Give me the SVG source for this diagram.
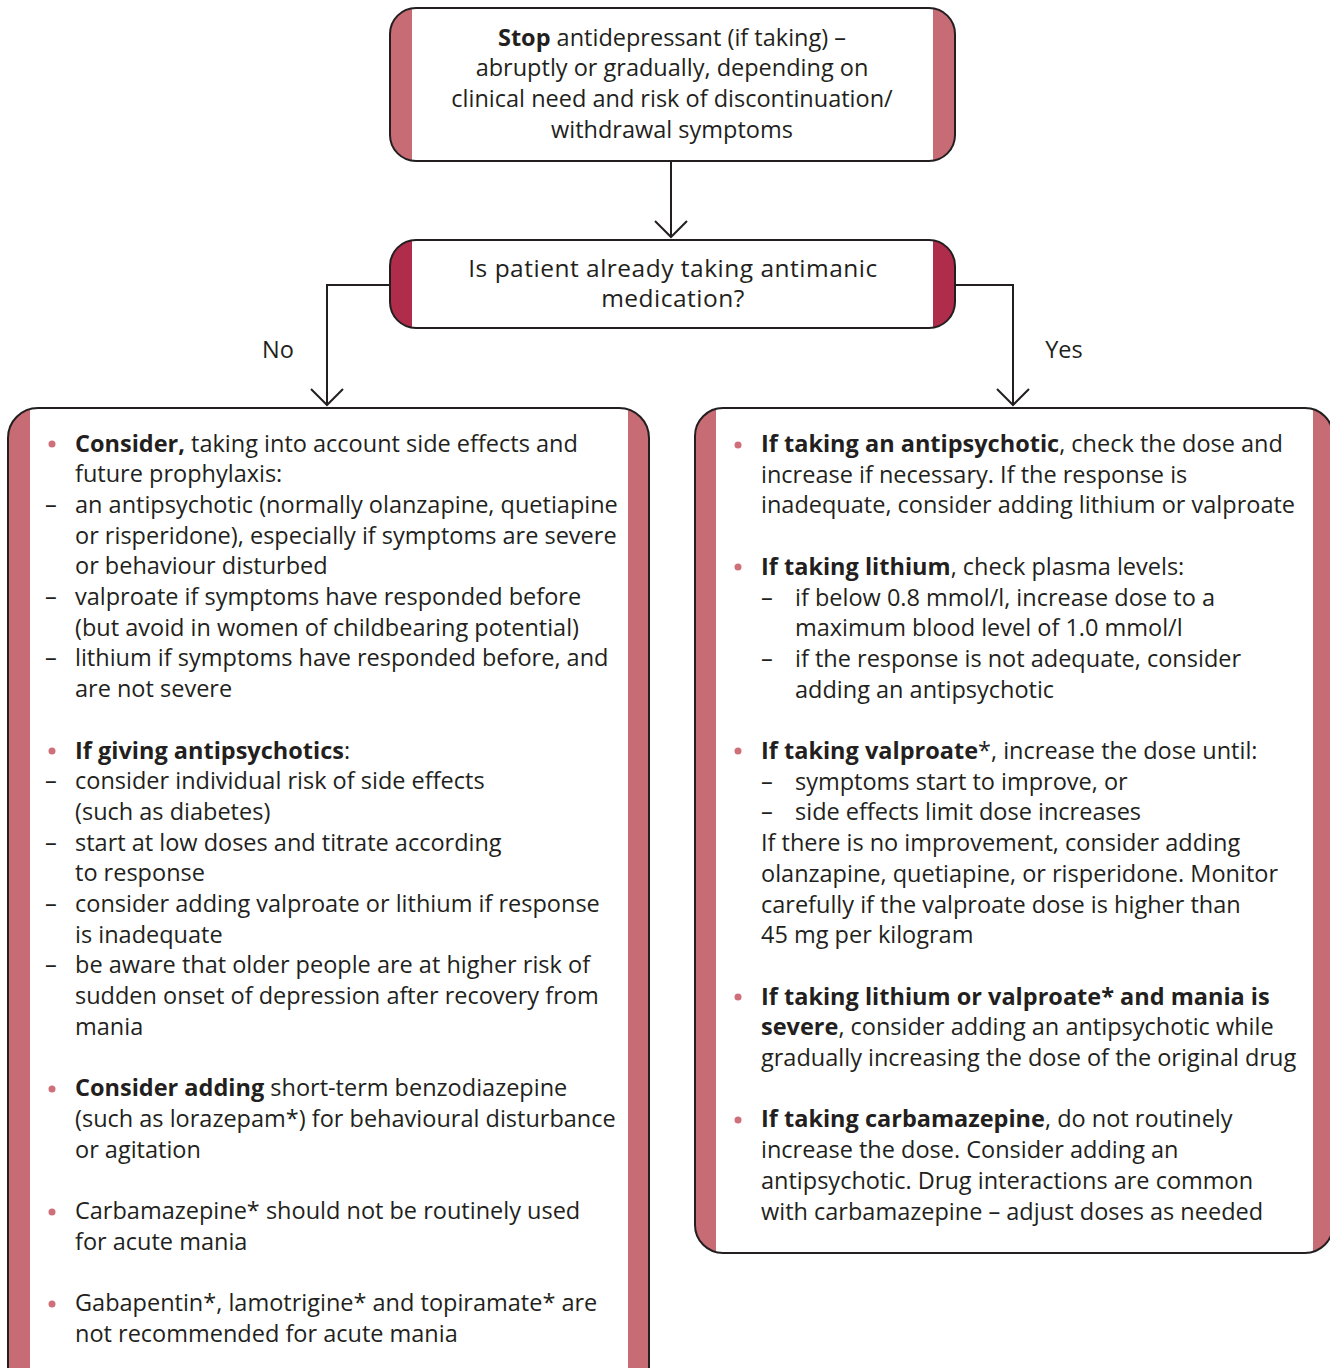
<svg xmlns="http://www.w3.org/2000/svg" width="1330" height="1368" viewBox="0 0 1330 1368">
<style>
text{font-family:"Open Sans","Noto Sans","Liberation Sans",sans-serif;font-size:23.5px;fill:#231f20}
.c{text-anchor:middle}
.q{font-size:24.5px;letter-spacing:0.5px}
.b{font-weight:bold}
.box{fill:none;stroke:#231f20;stroke-width:2}
.bg{fill:#ffffff}
.band{fill:#c76b74}
.band2{fill:#b02c4b}
.dot{fill:#cf6f79}
.conn{fill:none;stroke:#231f20;stroke-width:2}
</style>
<defs>
<marker id="v" markerUnits="userSpaceOnUse" markerWidth="40" markerHeight="40" viewBox="-20 -20 40 40" refX="0" refY="0" orient="auto">
<path d="M-16,-16 L0,0 L-16,16" fill="none" stroke="#231f20" stroke-width="2"/>
</marker>
<clipPath id="c1"><rect x="390" y="8" width="565" height="153" rx="26"/></clipPath>
<clipPath id="c2"><rect x="390" y="240" width="565" height="88" rx="26"/></clipPath>
<clipPath id="c3"><rect x="8" y="408" width="641" height="990" rx="30"/></clipPath>
<clipPath id="c4"><rect x="695" y="408" width="638" height="845" rx="28"/></clipPath>
</defs>
<rect width="1330" height="1368" fill="#ffffff"/>

<g id="connectors">
<path class="conn" d="M671,161 L671,237" marker-end="url(#v)"/>
<path class="conn" d="M390,285 L327,285 L327,405" marker-end="url(#v)"/>
<path class="conn" d="M955,285 L1013,285 L1013,405" marker-end="url(#v)"/>
<text x="278" y="358" class="c">No</text>
<text x="1064" y="358" class="c">Yes</text>
</g>

<g id="stop">
<rect class="bg" x="390" y="8" width="565" height="153" rx="26"/>
<g clip-path="url(#c1)"><rect class="band" x="390" y="8" width="22" height="153"/><rect class="band" x="933" y="8" width="22" height="153"/></g>
<rect class="box" x="390" y="8" width="565" height="153" rx="26"/>
<text x="672" y="45.5" class="c"><tspan class="b">Stop</tspan> antidepressant (if taking) –</text>
<text x="672" y="76" class="c">abruptly or gradually, depending on</text>
<text x="672" y="107" class="c">clinical need and risk of discontinuation/</text>
<text x="672" y="137.5" class="c">withdrawal symptoms</text>
</g>

<g id="question">
<rect class="bg" x="390" y="240" width="565" height="88" rx="26"/>
<g clip-path="url(#c2)"><rect class="band2" x="390" y="240" width="22" height="88"/><rect class="band2" x="933" y="240" width="22" height="88"/></g>
<rect class="box" x="390" y="240" width="565" height="88" rx="26"/>
<text x="673" y="276.5" class="c q">Is patient already taking antimanic</text>
<text x="673" y="307" class="c q">medication?</text>
</g>

<g id="no-branch">
<rect class="bg" x="8" y="408" width="641" height="990" rx="30"/>
<g clip-path="url(#c3)"><rect class="band" x="8" y="408" width="22" height="990"/><rect class="band" x="628" y="408" width="21" height="990"/></g>
<rect class="box" x="8" y="408" width="641" height="990" rx="30"/>
<circle class="dot" cx="52" cy="444" r="3.5"/>
<text x="75" y="451.5"><tspan class="b">Consider,</tspan> taking into account side effects and</text>
<text x="75" y="482.2">future prophylaxis:</text>
<text x="45" y="512.9">–</text><text x="75" y="512.9">an antipsychotic (normally olanzapine, quetiapine</text>
<text x="75" y="543.6">or risperidone), especially if symptoms are severe</text>
<text x="75" y="574.3">or behaviour disturbed</text>
<text x="45" y="605">–</text><text x="75" y="605">valproate if symptoms have responded before</text>
<text x="75" y="635.7">(but avoid in women of childbearing potential)</text>
<text x="45" y="666.4">–</text><text x="75" y="666.4">lithium if symptoms have responded before, and</text>
<text x="75" y="697.1">are not severe</text>
<circle class="dot" cx="52" cy="751" r="3.5"/>
<text x="75" y="758.5"><tspan class="b">If giving antipsychotics</tspan>:</text>
<text x="45" y="789.2">–</text><text x="75" y="789.2">consider individual risk of side effects</text>
<text x="75" y="819.9">(such as diabetes)</text>
<text x="45" y="850.6">–</text><text x="75" y="850.6">start at low doses and titrate according</text>
<text x="75" y="881.3">to response</text>
<text x="45" y="912">–</text><text x="75" y="912">consider adding valproate or lithium if response</text>
<text x="75" y="942.7">is inadequate</text>
<text x="45" y="973.4">–</text><text x="75" y="973.4">be aware that older people are at higher risk of</text>
<text x="75" y="1004.1">sudden onset of depression after recovery from</text>
<text x="75" y="1034.8">mania</text>
<circle class="dot" cx="52" cy="1089" r="3.5"/>
<text x="75" y="1096.2"><tspan class="b">Consider adding</tspan> short-term benzodiazepine</text>
<text x="75" y="1126.9">(such as lorazepam*) for behavioural disturbance</text>
<text x="75" y="1157.6">or agitation</text>
<circle class="dot" cx="52" cy="1212" r="3.5"/>
<text x="75" y="1219">Carbamazepine* should not be routinely used</text>
<text x="75" y="1249.7">for acute mania</text>
<circle class="dot" cx="52" cy="1304" r="3.5"/>
<text x="75" y="1311.1">Gabapentin*, lamotrigine* and topiramate* are</text>
<text x="75" y="1341.8">not recommended for acute mania</text>
</g>

<g id="yes-branch">
<rect class="bg" x="695" y="408" width="638" height="845" rx="28"/>
<g clip-path="url(#c4)"><rect class="band" x="695" y="408" width="21" height="845"/><rect class="band" x="1313" y="408" width="20" height="845"/></g>
<rect class="box" x="695" y="408" width="638" height="845" rx="28"/>
<circle class="dot" cx="738" cy="445" r="3.5"/>
<text x="761" y="452"><tspan class="b">If taking an antipsychotic</tspan>, check the dose and</text>
<text x="761" y="482.7">increase if necessary. If the response is</text>
<text x="761" y="513.4">inadequate, consider adding lithium or valproate</text>
<circle class="dot" cx="738" cy="567" r="3.5"/>
<text x="761" y="574.8"><tspan class="b">If taking lithium</tspan>, check plasma levels:</text>
<text x="761" y="605.5">–</text><text x="795" y="605.5">if below 0.8 mmol/l, increase dose to a</text>
<text x="795" y="636.2">maximum blood level of 1.0 mmol/l</text>
<text x="761" y="666.9">–</text><text x="795" y="666.9">if the response is not adequate, consider</text>
<text x="795" y="697.6">adding an antipsychotic</text>
<circle class="dot" cx="738" cy="751" r="3.5"/>
<text x="761" y="759"><tspan class="b">If taking valproate</tspan>*, increase the dose until:</text>
<text x="761" y="789.7">–</text><text x="795" y="789.7">symptoms start to improve, or</text>
<text x="761" y="820.4">–</text><text x="795" y="820.4">side effects limit dose increases</text>
<text x="761" y="851.1">If there is no improvement, consider adding</text>
<text x="761" y="881.8">olanzapine, quetiapine, or risperidone. Monitor</text>
<text x="761" y="912.5">carefully if the valproate dose is higher than</text>
<text x="761" y="943.2">45 mg per kilogram</text>
<circle class="dot" cx="738" cy="997" r="3.5"/>
<text x="761" y="1004.6"><tspan class="b">If taking lithium or valproate* and mania is</tspan></text>
<text x="761" y="1035.3"><tspan class="b">severe</tspan>, consider adding an antipsychotic while</text>
<text x="761" y="1066">gradually increasing the dose of the original drug</text>
<circle class="dot" cx="738" cy="1120" r="3.5"/>
<text x="761" y="1127.4"><tspan class="b">If taking carbamazepine</tspan>, do not routinely</text>
<text x="761" y="1158.1">increase the dose. Consider adding an</text>
<text x="761" y="1188.8">antipsychotic. Drug interactions are common</text>
<text x="761" y="1219.5">with carbamazepine – adjust doses as needed</text>
</g>
</svg>
